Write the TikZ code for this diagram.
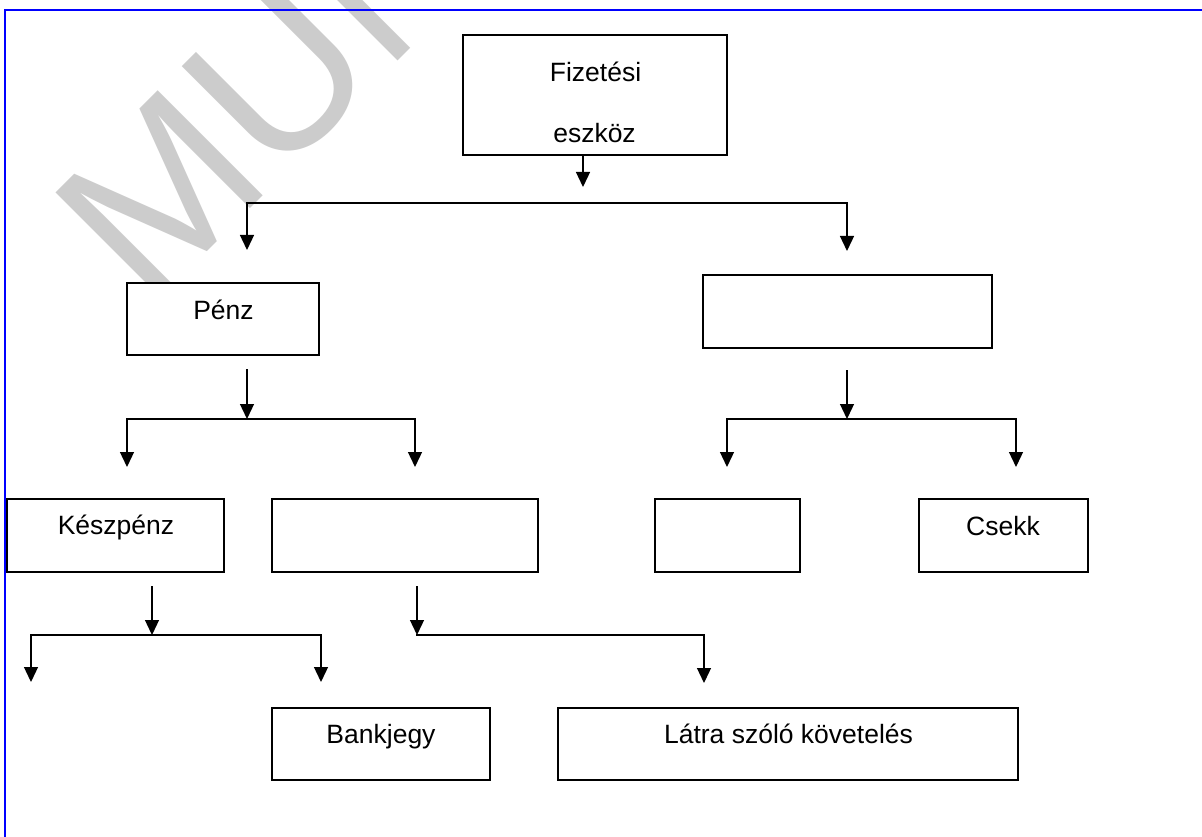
\documentclass[tikz,border=0pt]{standalone}
\usepackage{fontspec}
\setmainfont{Liberation Sans}
\usetikzlibrary{arrows.meta}
\definecolor{wmgray}{RGB}{204,204,204}
\definecolor{frameblue}{RGB}{0,0,255}
\begin{document}
\begin{tikzpicture}[x=1pt,y=-1pt,
  box/.style={draw, line width=1.5pt, fill=white, rectangle, inner sep=0pt},
  lab/.style={anchor=base, inner sep=0pt, font=\fontsize{26.5}{30}\selectfont},
  wm/.style={anchor=base west, rotate=45, inner sep=0pt, text=wmgray, font=\fontsize{216}{216}\selectfont},
  conn/.style={line width=1.3pt, line join=miter, line cap=rect},
  arr/.style={conn, -{Triangle[width=14pt,length=15pt]}}]
\useasboundingbox (0,0) rectangle (1202,837);
\fill[white] (0,0) rectangle (1202,837);

% watermark
\begin{scope}
\clip (0,0) rectangle (1202,837);
\node[wm] (wm) at (148,311) {MUN};
\end{scope}

% frame
\draw[frameblue, line width=2pt] (5,837) -- (5,10) -- (1202,10);

% boxes
\node[box, minimum width=264pt, minimum height=120pt] (top) at (595,95) {};
\node[box, minimum width=192pt, minimum height=72pt] (penz) at (223,319) {};
\node[box, minimum width=289pt, minimum height=73pt] (right) at (847.5,311.5) {};
\node[box, minimum width=217pt, minimum height=73pt] (kesz) at (115.5,535.5) {};
\node[box, minimum width=266pt, minimum height=73pt] (mid) at (405,535.5) {};
\node[box, minimum width=145pt, minimum height=73pt] (small) at (727.5,535.5) {};
\node[box, minimum width=169pt, minimum height=73pt] (csekk) at (1003.5,535.5) {};
\node[box, minimum width=218pt, minimum height=72pt] (bank) at (381,744) {};
\node[box, minimum width=460pt, minimum height=72pt] (latra) at (788,744) {};

% labels
\node[lab] (tFiz) at (595.5,82) {Fizetési};
\node[lab] (tEsz) at (594.5,143) {eszköz};
\node[lab] (tPenz) at (223.5,319) {Pénz};
\node[lab] (tKesz) at (116,534) {Készpénz};
\node[lab] (tCsekk) at (1003,535) {Csekk};
\node[lab] (tBank) at (381,743) {Bankjegy};
\node[lab] (tLatra) at (788.5,743) {Látra szóló követelés};

% level 1 connectors
\coordinate (a1) at (583,187);
\draw[arr] (a1 |- top.south) -- (a1);
\coordinate (h1L) at (247,203);
\coordinate (h1R) at (847,203);
\coordinate (e1L) at (247,250);
\coordinate (e1R) at (847,251);
\draw[arr] (h1R) -- (h1L) -- (e1L);
\draw[arr] (h1R) -- (e1R);

% level 2 left (under Penz)
\coordinate (s2) at (247,370);
\coordinate (j2) at (247,419);
\coordinate (h2L) at (127,419);
\coordinate (h2R) at (415,419);
\coordinate (e2L) at (127,467);
\coordinate (e2R) at (415,467);
\draw[arr] (s2) -- (j2);
\draw[arr] (h2R) -- (h2L) -- (e2L);
\draw[arr] (h2R) -- (e2R);

% level 2 right (under empty box)
\coordinate (s2r) at (847,371);
\coordinate (j2r) at (847,419);
\coordinate (h2rL) at (727,419);
\coordinate (h2rR) at (1016,419);
\coordinate (e2rL) at (727,467);
\coordinate (e2rR) at (1016,467);
\draw[arr] (s2r) -- (j2r);
\draw[arr] (h2rR) -- (h2rL) -- (e2rL);
\draw[arr] (h2rR) -- (e2rR);

% level 3 (under Keszpenz)
\coordinate (s3) at (152,587);
\coordinate (j3) at (152,635);
\coordinate (h3L) at (31,635);
\coordinate (h3R) at (321,635);
\coordinate (e3L) at (31,682);
\coordinate (e3R) at (321,682);
\draw[arr] (s3) -- (j3);
\draw[arr] (h3R) -- (h3L) -- (e3L);
\draw[arr] (h3R) -- (e3R);

% level 3 (under middle box)
\coordinate (s3m) at (417,587);
\coordinate (j3m) at (417,635);
\coordinate (h3mR) at (704,635);
\coordinate (e3m) at (704,683);
\draw[arr] (s3m) -- (j3m);
\draw[arr] (j3m) -- (h3mR) -- (e3m);
\end{tikzpicture}
\end{document}
